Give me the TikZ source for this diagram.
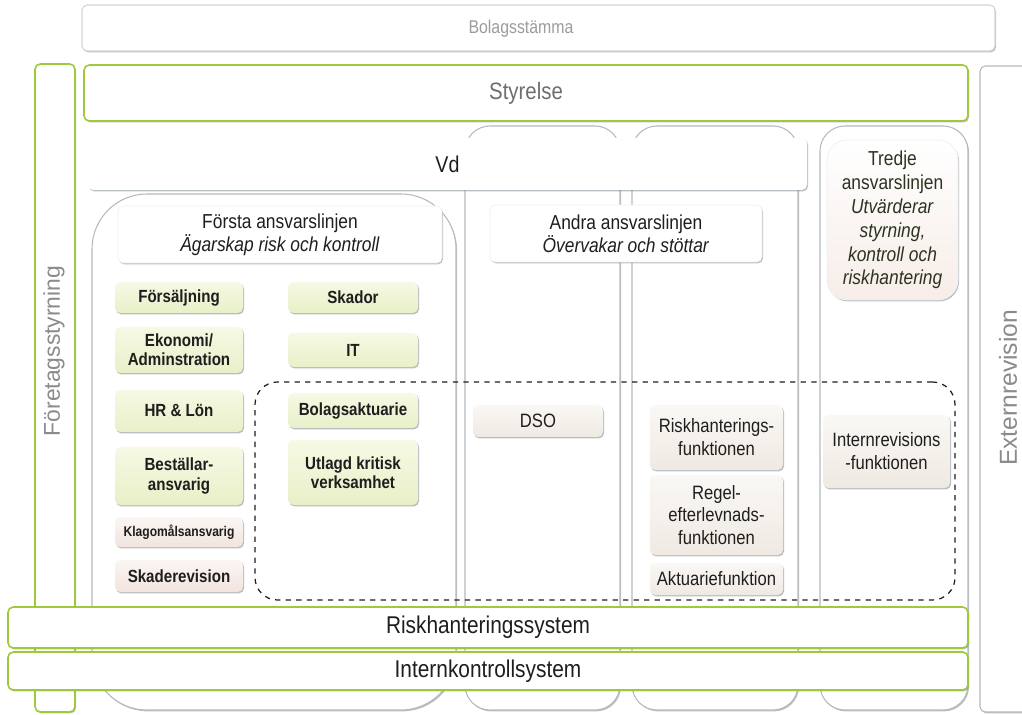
\documentclass[tikz,border=0pt]{standalone}
\usepackage{fontspec}
\setmainfont{Liberation Sans}[FakeStretch=0.86]
\newfontfamily\upfont{Liberation Sans}
\usepackage{tikz}
\usetikzlibrary{shadows}
\definecolor{ink}{HTML}{1E1E1E}
\definecolor{ink2}{HTML}{6E6E6E}
\definecolor{faint}{HTML}{9C9C9C}
\definecolor{grn}{HTML}{9DC93B}
\definecolor{edge}{HTML}{B4BABD}
\definecolor{shadowc}{HTML}{7F8C94}
\definecolor{leaf}{HTML}{E8F0C8}
\definecolor{leaftop}{HTML}{F6F9E4}
\definecolor{rose}{HTML}{F2E4DE}
\definecolor{rosetop}{HTML}{FBF6F3}
\definecolor{sand}{HTML}{EFE9E2}
\definecolor{sandtop}{HTML}{FAF8F5}
\definecolor{olive}{HTML}{2C3320}

\begin{document}
\begin{tikzpicture}[
  x=1cm, y=1cm,
  font=\fontsize{11}{12}\selectfont,
  base/.style={rounded corners=3pt, inner sep=2pt, align=center, text=ink},
  shd/.style={drop shadow={shadow xshift=0.6pt, shadow yshift=-0.8pt,
              fill=shadowc, opacity=0.55}},
  frame/.style={base, draw=edge, line width=0.6pt, fill=white, shd},
  gframe/.style={base, draw=grn, line width=0.9pt, fill=white, shd},
  colbox/.style={frame, rounded corners=0.5cm},
  head/.style={base, fill=white, draw=black!6, shd,
               font=\fontsize{11.5}{12}\selectfont},
  itemg/.style={base, top color=leaftop, bottom color=leaf, shd,
                font=\fontsize{10}{11}\selectfont\bfseries},
  itemr/.style={itemg, top color=rosetop, bottom color=rose},
  items/.style={base, top color=sandtop, bottom color=sand, shd,
                font=\fontsize{11}{13}\selectfont},
  side/.style={text=ink2!80, font=\upfont\fontsize{13}{13}\selectfont,
               rotate=90},
]
\useasboundingbox (0,0) rectangle (20.44,-14.30);

% ---------------- outer frame: owners, board, external audit ----------------
\node[frame, draw=edge!60, minimum width=18.26cm, minimum height=0.92cm]
  (bolag) at (10.77,-0.56) {};
\node[text=faint, font=\fontsize{10.5}{11}\selectfont]
  (bolagtext) at (10.42,-0.58) {Bolagsstämma};

\node[gframe, minimum width=0.8cm, minimum height=12.96cm]
  (foretag) at (1.10,-7.76) {};
\node[side] (foretagtext) at (1.08,-7.02) {Företagsstyrning};

\node[frame, minimum width=1.3cm, minimum height=12.92cm]
  (extern) at (20.25,-7.78) {};
\node[side, font=\upfont\fontsize{14}{14}\selectfont]
  (externtext) at (20.16,-7.76) {Externrevision};

% ---------------- the three lines of defence (columns) ----------------
\node[colbox, rounded corners=1.1cm, minimum width=7.28cm,
      minimum height=10.32cm] (col1) at (5.48,-9.04) {};
\node[colbox, minimum width=3.10cm, minimum height=11.68cm]
  (col2) at (10.85,-8.36) {};
\node[colbox, minimum width=3.32cm, minimum height=11.68cm]
  (col3) at (14.30,-8.36) {};
\node[colbox, minimum width=2.96cm, minimum height=11.68cm]
  (col4) at (17.88,-8.36) {};

% the managing director sits across the first two lines
\node[base, fill=white, shd, minimum width=14.38cm,
      minimum height=1.04cm, font=\fontsize{13}{13}\selectfont]
  (vd) at (8.95,-3.28) {Vd};

\node[gframe, minimum width=17.68cm, minimum height=1.12cm, text=ink2,
      font=\fontsize{13.5}{14}\selectfont]
  (styrelse) at (10.52,-1.86) {Styrelse};

% ---------------- headers ----------------
\node[head, minimum width=6.48cm, minimum height=1.14cm] (forsta) at (5.60,-4.69)
  {Första ansvarslinjen\\\textit{Ägarskap risk och kontroll}};
\node[head, minimum width=5.44cm, minimum height=1.14cm] (andra) at (12.52,-4.67)
  {Andra ansvarslinjen\\\textit{Övervakar och stöttar}};
\node[head, top color=white, bottom color=rosetop!50!rose, text=olive,
      minimum width=2.62cm, minimum height=3.2cm, rounded corners=0.4cm,
      font=\fontsize{11.5}{13.6}\selectfont] (tredje) at (17.85,-4.40)
  {Tredje\\ansvarslinjen\\\textit{Utvärderar}\\\textit{styrning,}\\%
   \textit{kontroll och}\\\textit{riskhantering}};

% critical functions
\node[draw=ink, dashed, line width=0.7pt, rounded corners=0.45cm,
      minimum width=14.0cm, minimum height=4.36cm] (kritisk) at (12.10,-9.82) {};

% ---------------- first line: business units ----------------
\node[itemg, minimum width=2.56cm, minimum height=0.62cm] (forsalj) at (3.58,-5.95) {Försäljning};
\node[itemg, minimum width=2.56cm, minimum height=0.92cm] (ekonomi) at (3.58,-7.00) {Ekonomi/\\Adminstration};
\node[itemg, minimum width=2.56cm, minimum height=0.84cm] (hrlon) at (3.58,-8.22) {HR \& Lön};
\node[itemg, minimum width=2.56cm, minimum height=1.16cm] (bestall) at (3.58,-9.52) {Beställar-\\ansvarig};
\node[itemr, minimum width=2.56cm, minimum height=0.60cm,
      font=\fontsize{8}{9}\selectfont\bfseries] (klagomal) at (3.58,-10.64) {Klagomålsansvarig};
\node[itemr, minimum width=2.56cm, minimum height=0.64cm] (skaderev) at (3.58,-11.52) {Skaderevision};

\node[itemg, minimum width=2.60cm, minimum height=0.62cm] (skador) at (7.06,-5.95) {Skador};
\node[itemg, minimum width=2.60cm, minimum height=0.68cm] (itdrift) at (7.06,-7.00) {IT};
\node[itemg, minimum width=2.60cm, minimum height=0.70cm] (bolagsakt) at (7.06,-8.21) {Bolagsaktuarie};
\node[itemg, minimum width=2.60cm, minimum height=1.30cm] (utlagd) at (7.06,-9.45) {Utlagd kritisk\\verksamhet};

% ---------------- second and third line: key functions ----------------
\node[items, minimum width=2.60cm, minimum height=0.64cm] (dso) at (10.76,-8.42) {DSO};
\node[items, minimum width=2.66cm, minimum height=1.30cm] (riskfunk) at (14.33,-8.75) {Riskhanterings-\\funktionen};
\node[items, minimum width=2.66cm, minimum height=1.60cm] (regel) at (14.33,-10.30) {Regel-\\efterlevnads-\\funktionen};
\node[items, minimum width=2.66cm, minimum height=0.64cm] (aktuarie) at (14.33,-11.58) {Aktuariefunktion};
\node[items, minimum width=2.54cm, minimum height=1.46cm] (internrev) at (17.73,-9.03) {Internrevisions\\-funktionen};

% ---------------- systems running across all lines ----------------
\node[gframe, minimum width=19.2cm, minimum height=0.82cm,
      font=\fontsize{13.8}{14}\selectfont] (risksys) at (9.76,-12.55) {Riskhanteringssystem};
\node[gframe, minimum width=19.2cm, minimum height=0.76cm,
      font=\fontsize{13.8}{14}\selectfont] (intsys) at (9.76,-13.42) {Internkontrollsystem};

\end{tikzpicture}
\end{document}
